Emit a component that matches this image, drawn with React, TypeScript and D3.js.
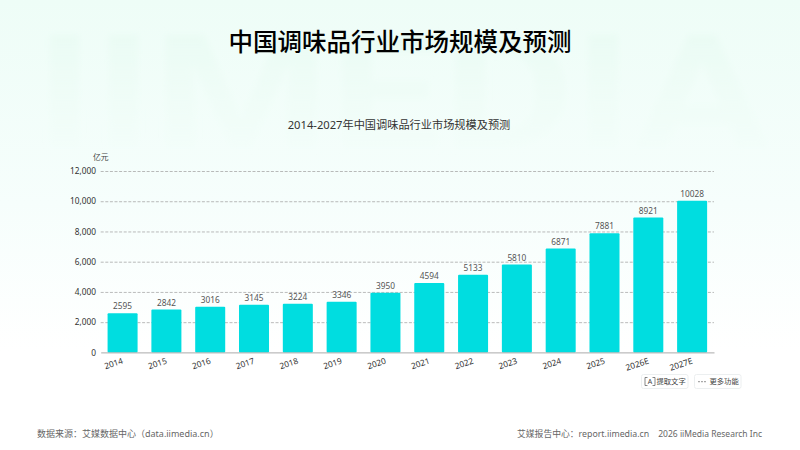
import React, { useEffect, useRef } from 'react';
import * as d3 from 'd3';

const years = ['2014', '2015', '2016', '2017', '2018', '2019', '2020', '2021', '2022', '2023', '2024', '2025', '2026E', '2027E'];
const values = [2595, 2842, 3016, 3145, 3224, 3346, 3950, 4594, 5133, 5810, 6871, 7881, 8921, 10028];
const yTicks = [0, 2000, 4000, 6000, 8000, 10000, 12000];

const FONT = '"Noto Sans", "Noto Sans CJK SC", sans-serif';
const CJK = '"Noto Sans CJK SC", "Noto Sans", sans-serif';

const App: React.FC = () => {
  const svgRef = useRef<SVGSVGElement>(null);

  useEffect(() => {
    if (!svgRef.current) return;
    const root = d3.select(svgRef.current);
    root.selectAll('*').remove();

    // background
    const defs = root.append('defs');
    const bg = defs.append('linearGradient').attr('id', 'bg').attr('x1', 0).attr('y1', 0).attr('x2', 0).attr('y2', 1);
    bg.append('stop').attr('offset', '0%').attr('stop-color', '#eefdf7');
    bg.append('stop').attr('offset', '45%').attr('stop-color', '#f6fefc');
    bg.append('stop').attr('offset', '78%').attr('stop-color', '#ffffff');
    const wm = defs.append('linearGradient').attr('id', 'wm').attr('x1', 0).attr('y1', 0).attr('x2', 0).attr('y2', 1);
    wm.append('stop').attr('offset', '15%').attr('stop-color', '#e6faf0').attr('stop-opacity', 0.55);
    wm.append('stop').attr('offset', '100%').attr('stop-color', '#f2fdf9').attr('stop-opacity', 0.15);
    defs.append('filter').attr('id', 'blur').append('feGaussianBlur').attr('stdDeviation', 3);

    root.append('rect').attr('width', 800).attr('height', 450).attr('fill', 'url(#bg)');
    root.append('text')
      .attr('x', 35).attr('y', 148)
      .attr('textLength', 735)
      .attr('lengthAdjust', 'spacingAndGlyphs')
      .attr('font-family', 'Roboto, sans-serif')
      .attr('font-weight', 700)
      .attr('font-size', 159)
      .attr('fill', 'url(#wm)')
      .attr('filter', 'url(#blur)')
      .text('IIMEDIA');

    // titles
    root.append('text')
      .attr('x', 400).attr('y', 50.5)
      .attr('text-anchor', 'middle')
      .attr('font-family', CJK)
      .attr('font-size', 24.5)
      .attr('font-weight', 500)
      .attr('fill', '#000')
      .text('中国调味品行业市场规模及预测');
    root.append('text')
      .attr('x', 399).attr('y', 129)
      .attr('text-anchor', 'middle')
      .attr('font-family', FONT)
      .attr('font-size', 11.2)
      .attr('fill', '#333')
      .text('2014-2027年中国调味品行业市场规模及预测');

    // scales
    const x = d3.scaleBand().domain(years).range([100.7, 714]).paddingInner(0.315).paddingOuter(0.157);
    const y = d3.scaleLinear().domain([0, 12000]).range([352.4, 171]);

    // grid
    const grid = root.append('g')
      .attr('transform', 'translate(100.7,0)')
      .call(d3.axisLeft(y).tickValues(yTicks.slice(1)).tickSize(-613.3));
    grid.select('.domain').remove();
    grid.selectAll('.tick text').remove();
    grid.selectAll('.tick line')
      .attr('stroke', '#a8a8a8')
      .attr('stroke-width', 0.8)
      .attr('stroke-dasharray', '3 1.6');

    // y labels
    const yAxis = root.append('g')
      .attr('transform', 'translate(96,0)')
      .call(d3.axisLeft(y).tickValues(yTicks).tickSize(0).tickPadding(0).tickFormat(d => d3.format(',')(d as number)));
    yAxis.select('.domain').remove();
    yAxis.selectAll('text')
      .attr('font-family', FONT)
      .attr('font-size', 8.3)
      .attr('fill', '#333');

    root.append('text')
      .attr('x', 93).attr('y', 160)
      .attr('font-family', CJK)
      .attr('font-size', 7.8)
      .attr('fill', '#444')
      .text('亿元');

    // bars
    root.append('g').selectAll('rect')
      .data(values)
      .join('rect')
      .attr('x', (_, i) => x(years[i]) as number)
      .attr('y', d => y(d))
      .attr('width', x.bandwidth())
      .attr('height', d => y(0) - y(d))
      .attr('rx', 1)
      .attr('fill', '#00dde0');

    // bar labels
    root.append('g').selectAll('text')
      .data(values)
      .join('text')
      .attr('x', (_, i) => (x(years[i]) as number) + x.bandwidth() / 2)
      .attr('y', d => y(d) - 3.8)
      .attr('text-anchor', 'middle')
      .attr('font-family', FONT)
      .attr('font-size', 8.3)
      .attr('fill', '#555')
      .text(d => d);

    // x axis
    const xAxis = root.append('g')
      .attr('transform', 'translate(0,352.4)')
      .call(d3.axisBottom(x).tickSize(0).tickPadding(0));
    xAxis.select('.domain').attr('stroke', '#aaa').attr('stroke-width', 1);
    xAxis.selectAll('text')
      .attr('font-family', FONT)
      .attr('font-size', 8.3)
      .attr('fill', '#333')
      .attr('text-anchor', 'end')
      .attr('y', 0)
      .attr('dy', 0)
      .attr('transform', 'translate(1,11) rotate(-18)');

    // tool buttons
    const buttons = [
      { label: '提取文字', left: 641.5, w: 46.5 },
      { label: '更多功能', left: 694.5, w: 46.5 },
    ];
    buttons.forEach((b, i) => {
      root.append('rect')
        .attr('x', b.left).attr('y', 374.5)
        .attr('width', b.w).attr('height', 14)
        .attr('rx', 2)
        .attr('fill', '#fff')
        .attr('stroke', '#eceff0');
      root.append('text')
        .attr('x', b.left + 15).attr('y', 384.3)
        .attr('font-family', CJK)
        .attr('font-size', 7.3)
        .attr('fill', '#444')
        .text(b.label);
      if (i === 0) {
        root.append('path')
          .attr('d', `M${b.left + 6},377.5h-2.5v8h2.5M${b.left + 11},377.5h2.5v8h-2.5`)
          .attr('fill', 'none')
          .attr('stroke', '#555')
          .attr('stroke-width', 0.7);
        root.append('text')
          .attr('x', b.left + 8.5).attr('y', 384.2)
          .attr('text-anchor', 'middle')
          .attr('font-family', FONT)
          .attr('font-size', 7)
          .attr('fill', '#444')
          .text('A');
      } else {
        root.append('g').selectAll('circle')
          .data([0, 1, 2])
          .join('circle')
          .attr('cx', d => b.left + 4.5 + d * 3)
          .attr('cy', 381.7)
          .attr('r', 0.6)
          .attr('fill', '#444');
      }
    });

    // footer
    root.append('text')
      .attr('x', 37).attr('y', 437)
      .attr('font-family', FONT)
      .attr('font-size', 9)
      .attr('fill', '#666')
      .text('数据来源：艾媒数据中心（data.iimedia.cn）');
    root.append('text')
      .attr('x', 517).attr('y', 437)
      .attr('font-family', FONT)
      .attr('font-size', 8.8)
      .attr('fill', '#666')
      .text('艾媒报告中心：report.iimedia.cn');
    root.append('text')
      .attr('x', 762).attr('y', 437)
      .attr('text-anchor', 'end')
      .attr('font-family', FONT)
      .attr('font-size', 8.5)
      .attr('fill', '#666')
      .text('2026 iiMedia Research Inc');
  }, []);

  return (
    <svg
      ref={svgRef}
      width={800}
      height={450}
      style={{ position: 'absolute', left: 0, top: 0, display: 'block' }}
    />
  );
};

export default App;
